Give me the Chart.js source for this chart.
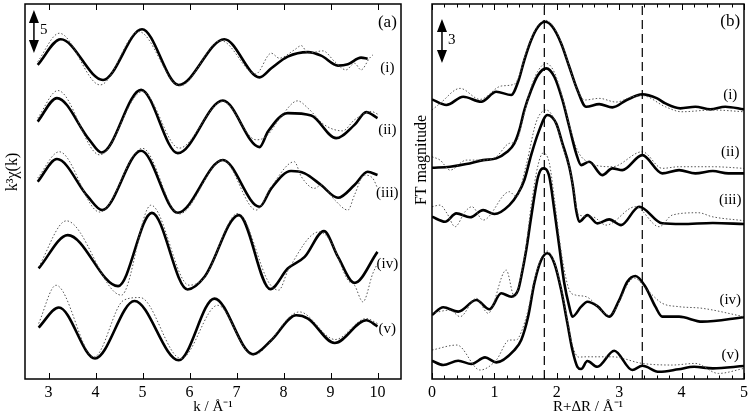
<!DOCTYPE html>
<html>
<head>
<meta charset="utf-8">
<script src="https://cdn.jsdelivr.net/npm/chart.js@4/dist/chart.umd.min.js"></script>
<style>
  html, body { margin: 0; padding: 0; background: #fff; }
  #wrap { position: relative; width: 752px; height: 417px; }
  canvas { position: absolute; top: 0; }
  #chartA { left: 0; }
  #chartB { left: 410px; }
</style>
</head>
<body>
<div id="wrap">
  <canvas id="chartA" width="410" height="417"></canvas>
  <canvas id="chartB" width="342" height="417"></canvas>
</div>
<script>
// ---- panel (a): k^3 chi(k), [k, value] pairs ----
const aFit1 = [[2.77,-0.58],[3.26,2.41],[4.16,-2.33],[4.99,3.57],[5.77,-2.91],[6.74,2.41],[7.49,-2.03],[7.74,-0.97],[8.09,0.38],[8.52,0.90],[8.80,0.50],[9.16,-0.66],[9.37,-0.50],[9.65,0.27],[9.79,0.12]];
const aExp1 = [[2.77,-0.20],[3.23,3.10],[4.10,-2.91],[4.92,3.29],[5.80,-3.02],[6.67,2.24],[7.41,-1.63],[7.74,0.78],[7.91,0.20],[8.23,1.16],[8.38,1.66],[8.52,0.78],[8.84,1.05],[9.09,-0.20],[9.33,-1.16],[9.51,-0.38],[9.65,-1.16],[9.83,0.20],[9.90,0.58]];
const aFit2 = [[2.77,0.03],[3.18,2.76],[3.87,-2.09],[4.13,-3.57],[4.97,3.72],[5.75,-3.64],[6.71,2.48],[7.49,-2.94],[7.67,-1.13],[8.09,1.01],[8.59,0.73],[9.12,-1.90],[9.51,-0.35],[9.76,1.13],[10.0,0.43]];
const aExp2 = [[2.77,0.43],[3.20,3.64],[4.09,-3.84],[5.00,3.52],[5.78,-3.06],[6.71,2.36],[7.42,-2.09],[7.63,-1.71],[7.95,0.62],[8.30,2.44],[8.52,1.59],[8.87,-0.35],[9.26,-1.05],[9.51,0.23],[9.87,1.20],[10.0,0.90]];
const aFit3 = [[2.77,0.03],[3.18,2.67],[3.84,-1.71],[4.14,-3.26],[4.97,3.64],[5.75,-3.57],[6.71,2.56],[7.49,-2.87],[7.74,-0.73],[8.16,1.28],[8.45,1.01],[8.80,-0.35],[9.16,-1.83],[9.51,-0.35],[9.79,1.20],[10.0,0.81]];
const aExp3 = [[2.77,0.47],[3.23,3.52],[4.09,-3.49],[5.00,3.92],[5.78,-3.72],[6.71,2.56],[7.42,-3.26],[7.74,-0.55],[8.23,2.36],[8.38,0.62],[8.66,-0.73],[8.80,-0.35],[9.09,-2.09],[9.37,-3.26],[9.51,-1.51],[9.72,0.81],[9.90,0.43],[10.0,-0.70]];
const aFit4 = [[2.79,-1.55],[3.41,2.33],[4.48,-3.60],[5.20,4.92],[5.96,-3.99],[6.32,-2.52],[7.05,4.65],[7.72,-3.95],[8.09,-1.55],[8.45,-0.20],[8.86,2.79],[9.16,-0.20],[9.51,-3.22],[10.0,0.38]];
const aExp4 = [[2.79,-1.36],[3.38,3.99],[4.55,-4.65],[5.18,5.81],[5.99,-3.49],[6.32,-2.60],[7.03,4.85],[7.70,-3.29],[7.90,-4.07],[8.10,-1.74],[8.76,2.71],[9.01,1.55],[9.37,-2.91],[9.51,-3.49],[9.69,-5.43],[9.90,-2.13],[10.0,-0.97]];
const aFit5 = [[2.79,0.08],[3.22,2.41],[3.99,-3.52],[4.83,3.17],[5.77,-3.72],[6.53,3.45],[7.35,-3.02],[7.74,-1.40],[8.27,1.51],[8.52,1.13],[9.09,-1.71],[9.76,0.93],[10.0,0.23]];
const aExp5 = [[2.79,0.55],[3.16,5.00],[3.97,-3.34],[4.60,3.26],[4.95,3.57],[5.82,-3.52],[6.60,2.67],[7.35,-3.14],[8.34,1.90],[9.10,-1.31],[9.76,1.13],[10.0,0.55]];
const aOffsets = [37.1, 29.9, 22.9, 14.4, 5.9];
const aTicks = [3, 4, 5, 6, 7, 8, 9, 10];

// ---- panel (b): FT magnitude, [R, value] pairs ----
const bFit1 = [[0,0.86],[0.23,0.48],[0.50,1.04],[0.79,0.70],[1.03,1.38],[1.27,1.16],[1.38,2.06],[1.48,3.54],[1.59,4.90],[1.70,5.80],[1.81,6.14],[1.93,5.80],[2.07,4.67],[2.20,3.08],[2.33,1.50],[2.47,0.36],[2.68,0.54],[2.89,0.32],[3.12,0.82],[3.37,1.20],[3.60,0.95],[3.74,0.59],[3.98,0.25],[4.22,0.36],[4.46,0.18],[4.70,0.36],[5.00,0.18]];
const bExp1 = [[0,0.14],[0.13,0.59],[0.45,1.61],[0.77,0.86],[1.11,1.77],[1.32,1.90],[1.42,2.72],[1.48,3.65],[1.59,5.00],[1.70,5.90],[1.81,6.25],[1.93,5.90],[2.07,4.75],[2.20,3.10],[2.33,1.50],[2.45,0.82],[2.68,0.93],[2.95,0.68],[3.21,1.04],[3.37,1.12],[3.74,0.36],[4.00,0.02],[4.50,0.14],[5.00,0.02]];
const bFit2 = [[0,0.70],[0.29,0.77],[0.55,0.95],[0.82,1.22],[1.03,1.34],[1.20,1.77],[1.32,2.36],[1.40,3.27],[1.48,4.63],[1.59,5.99],[1.70,7.01],[1.83,7.46],[1.96,6.89],[2.09,5.31],[2.20,3.49],[2.31,1.68],[2.39,0.88],[2.52,1.11],[2.73,0.20],[2.89,0.66],[3.05,0.54],[3.37,1.56],[3.69,0.32],[3.96,0.54],[4.22,0.32],[4.50,0.48],[4.75,0.32],[5.00,0.32]];
const bExp2 = [[0,1.45],[0.13,1.22],[0.29,0.54],[0.55,1.22],[0.82,1.22],[1.03,1.45],[1.24,2.36],[1.35,2.47],[1.46,4.08],[1.59,6.20],[1.70,7.30],[1.83,7.80],[1.96,7.20],[2.09,5.50],[2.20,3.60],[2.33,1.90],[2.45,1.22],[2.89,0.77],[3.37,1.79],[3.69,0.66],[3.96,0.77],[4.50,0.77],[5.00,0.66]];
const bFit3 = [[0,0.77],[0.21,0.43],[0.39,1.00],[0.61,0.73],[0.82,1.22],[1.00,0.95],[1.24,1.56],[1.38,2.36],[1.48,3.27],[1.59,4.97],[1.70,6.44],[1.85,7.69],[1.99,7.12],[2.09,5.76],[2.20,4.17],[2.26,2.79],[2.31,1.22],[2.36,0.43],[2.49,0.88],[2.65,0.32],[2.84,0.59],[3.03,0.20],[3.32,1.45],[3.69,0.32],[4.00,0.27],[4.50,0.34],[5.00,0.27]];
const bExp3 = [[0,1.45],[0.13,1.56],[0.24,1.00],[0.37,0.09],[0.53,1.11],[0.64,1.45],[0.82,0.54],[1.24,2.47],[1.35,2.13],[1.51,4.29],[1.67,7.21],[1.83,8.03],[2.00,7.00],[2.12,5.20],[2.20,4.20],[2.27,2.60],[2.35,0.90],[2.57,0.77],[2.79,0.20],[3.26,1.45],[3.64,0.09],[3.85,0.88],[4.27,1.04],[4.49,0.77],[5.00,0.50]];
const bFit4 = [[0,0.61],[0.18,1.14],[0.42,0.84],[0.71,1.63],[0.92,1.00],[1.11,2.09],[1.27,1.86],[1.38,2.31],[1.43,3.22],[1.51,5.03],[1.59,7.30],[1.70,10.02],[1.78,10.59],[1.88,10.02],[1.96,7.76],[2.04,5.26],[2.12,2.77],[2.20,1.18],[2.25,0.50],[2.39,1.18],[2.49,1.52],[2.65,1.22],[2.84,0.50],[3.00,1.63],[3.13,2.88],[3.26,3.27],[3.42,2.54],[3.58,1.18],[3.69,0.50],[3.96,0.50],[4.33,0.16],[5.00,0.46]];
const bExp4 = [[0,0.73],[0.29,0.95],[0.45,0.50],[0.71,1.75],[0.90,0.73],[1.19,3.67],[1.32,1.86],[1.43,3.40],[1.51,5.37],[1.59,8.10],[1.70,10.82],[1.78,11.63],[1.88,10.95],[1.96,8.57],[2.04,5.85],[2.12,3.67],[2.20,2.31],[2.30,1.97],[2.47,1.86],[2.84,0.61],[3.24,3.13],[3.45,2.31],[3.69,1.41],[3.96,1.18],[4.33,1.07],[5.00,0.50]];
const bFit5 = [[0,1.04],[0.18,0.75],[0.42,1.04],[0.63,0.82],[0.85,1.27],[1.03,0.93],[1.32,1.77],[1.43,2.45],[1.54,4.03],[1.64,6.31],[1.75,7.89],[1.85,8.35],[1.96,7.67],[2.07,5.85],[2.17,3.59],[2.25,1.77],[2.33,0.63],[2.39,0.48],[2.49,1.02],[2.65,0.63],[2.92,1.72],[3.21,0.41],[3.37,0.70],[3.64,0.29],[3.95,0.46],[4.20,0.63],[4.50,0.52],[5.00,0.68]];
const bExp5 = [[0,1.77],[0.40,2.11],[0.77,0.41],[1.03,1.09],[1.24,2.45],[1.35,2.45],[1.43,2.99],[1.54,4.49],[1.64,6.53],[1.75,8.03],[1.85,8.50],[1.96,7.76],[2.07,5.99],[2.17,3.81],[2.25,2.11],[2.35,1.29],[2.47,1.31],[2.89,1.31],[3.37,0.86],[3.85,0.75],[4.22,0.86],[4.59,0.18],[5.00,0.52]];
const bOffsets = [18.16, 13.67, 10.27, 3.74, 0.20];
const bTicks = [0, 1, 2, 3, 4, 5];
const bMarkers = [1.80, 3.37];

const curveNames = ["(i)", "(ii)", "(iii)", "(iv)", "(v)"];

const serif = "'Liberation Serif', 'Times New Roman', serif";

// frame, inward ticks, scale arrow and the little texts
const panelDecor = {
  id: "panelDecor",
  afterDraw(chart, args, o) {
    const { ctx, chartArea: a, scales: { x, y } } = chart;
    ctx.save();
    ctx.strokeStyle = "#000";
    ctx.fillStyle = "#000";

    ctx.lineWidth = 1;
    const tick = (v, len) => {
      const px = Math.round(x.getPixelForValue(v)) + 0.5;
      ctx.beginPath();
      ctx.moveTo(px, a.top); ctx.lineTo(px, a.top + len);
      ctx.moveTo(px, a.bottom); ctx.lineTo(px, a.bottom - len);
      ctx.stroke();
    };
    o.major.forEach(v => tick(v, 6));
    (o.minor || []).forEach(v => tick(v, 3.5));

    ctx.lineWidth = 1.5;
    ctx.strokeRect(a.left, a.top, a.right - a.left, a.bottom - a.top);

    // double arrow showing the vertical scale
    const ax = x.getPixelForValue(o.arrow.x);
    const y1 = y.getPixelForValue(o.arrow.top);
    const y2 = y.getPixelForValue(o.arrow.top - o.arrow.size);
    ctx.lineWidth = 1.5;
    ctx.beginPath();
    ctx.moveTo(ax, y1 + 8); ctx.lineTo(ax, y2 - 8);
    ctx.stroke();
    ctx.beginPath();
    ctx.moveTo(ax, y1); ctx.lineTo(ax - 5, y1 + 13); ctx.lineTo(ax + 5, y1 + 13); ctx.closePath();
    ctx.moveTo(ax, y2); ctx.lineTo(ax - 5, y2 - 13); ctx.lineTo(ax + 5, y2 - 13); ctx.closePath();
    ctx.fill();

    ctx.textBaseline = "middle";
    ctx.textAlign = "left";
    ctx.font = "15px " + serif;
    ctx.fillText(String(o.arrow.size), ax + 6, (y1 + y2) / 2 - 1);

    ctx.textAlign = "center";
    ctx.font = "17px " + serif;
    ctx.fillText(o.letter, x.getPixelForValue(o.letterAt[0]), y.getPixelForValue(o.letterAt[1]));

    ctx.font = "15px " + serif;
    curveNames.forEach((t, i) => {
      ctx.fillText(t, x.getPixelForValue(o.labelX), y.getPixelForValue(o.labelY[i]));
    });

    // y title, rotated
    ctx.translate(o.yTitle.x, o.yTitle.y);
    ctx.rotate(-Math.PI / 2);
    ctx.font = "16px " + serif;
    ctx.fillText(o.yTitle.text, 0, 0);
    ctx.restore();
  }
};

function curveSets(fits, exps, offsets) {
  const sets = [];
  exps.forEach((pts, i) => {
    sets.push({
      data: pts.map(p => ({ x: p[0], y: p[1] + offsets[i] })),
      borderColor: "#555",
      borderWidth: 1,
      borderDash: [1.5, 2],
    });
  });
  fits.forEach((pts, i) => {
    sets.push({
      data: pts.map(p => ({ x: p[0], y: p[1] + offsets[i] })),
      borderColor: "#000",
      borderWidth: 2.6,
    });
  });
  return sets;
}

function makePanel(id, cfg) {
  return new Chart(document.getElementById(id), {
    type: "line",
    data: { datasets: cfg.datasets },
    options: {
      responsive: false,
      animation: false,
      devicePixelRatio: 1,
      layout: { padding: cfg.padding },
      elements: {
        point: { radius: 0 },
        line: { cubicInterpolationMode: "monotone", fill: false },
      },
      scales: {
        x: {
          type: "linear",
          min: cfg.xMin,
          max: cfg.xMax,
          grid: { display: false, drawTicks: false },
          border: { display: false },
          afterBuildTicks: (s) => { s.ticks = cfg.ticks.map(v => ({ value: v })); },
          afterFit: (s) => { s.height = 38; },
          ticks: {
            color: "#000",
            padding: 4,
            maxRotation: 0,
            font: { family: serif, size: 16 },
          },
          title: {
            display: true,
            text: cfg.xTitle,
            color: "#000",
            padding: { top: 0, bottom: 1 },
            font: { family: serif, size: 15 },
          },
        },
        y: { display: false, min: 0, max: cfg.yMax },
      },
      plugins: {
        legend: { display: false },
        tooltip: { enabled: false },
        panelDecor: cfg.decor,
      },
    },
    plugins: [panelDecor],
  });
}

// panel (a)
makePanel("chartA", {
  datasets: curveSets([aFit1, aFit2, aFit3, aFit4, aFit5], [aExp1, aExp2, aExp3, aExp4, aExp5], aOffsets),
  padding: { left: 25, right: 9, top: 4, bottom: 0 },
  xMin: 2.5, xMax: 10.5, yMax: 43.6,
  ticks: aTicks,
  xTitle: "k / Å⁻¹",
  decor: {
    major: aTicks,
    arrow: { x: 2.69, top: 42.9, size: 5 },
    letter: "(a)", letterAt: [10.21, 41.5],
    labelX: 10.21, labelY: [36.2, 29.0, 21.6, 13.4, 5.8],
    yTitle: { text: "k³χ(k)", x: 13, y: 172 },
  },
});

// panel (b), with the two dashed reference lines
const markerSets = bMarkers.map(r => ({
  data: [{ x: r, y: 0 }, { x: r, y: 25.51 }],
  borderColor: "#000",
  borderWidth: 1.2,
  borderDash: [9, 5],
  cubicInterpolationMode: "default",
  tension: 0,
}));
const bMinor = [];
for (let i = 1; i < 25; i++) if (i % 5) bMinor.push(i / 5);

makePanel("chartB", {
  datasets: markerSets.concat(curveSets([bFit1, bFit2, bFit3, bFit4, bFit5], [bExp1, bExp2, bExp3, bExp4, bExp5], bOffsets)),
  padding: { left: 22, right: 6, top: 4, bottom: 0 },
  xMin: 0, xMax: 5, yMax: 25.51,
  ticks: bTicks,
  xTitle: "R+ΔR / Å⁻¹",
  decor: {
    major: bTicks,
    minor: bMinor,
    arrow: { x: 0.16, top: 24.49, size: 3 },
    letter: "(b)", letterAt: [4.78, 24.3],
    labelX: 4.78, labelY: [19.32, 15.44, 12.18, 5.37, 1.63],
    yTitle: { text: "FT magnitude", x: 12, y: 160 },
  },
});
</script>
</body>
</html>
